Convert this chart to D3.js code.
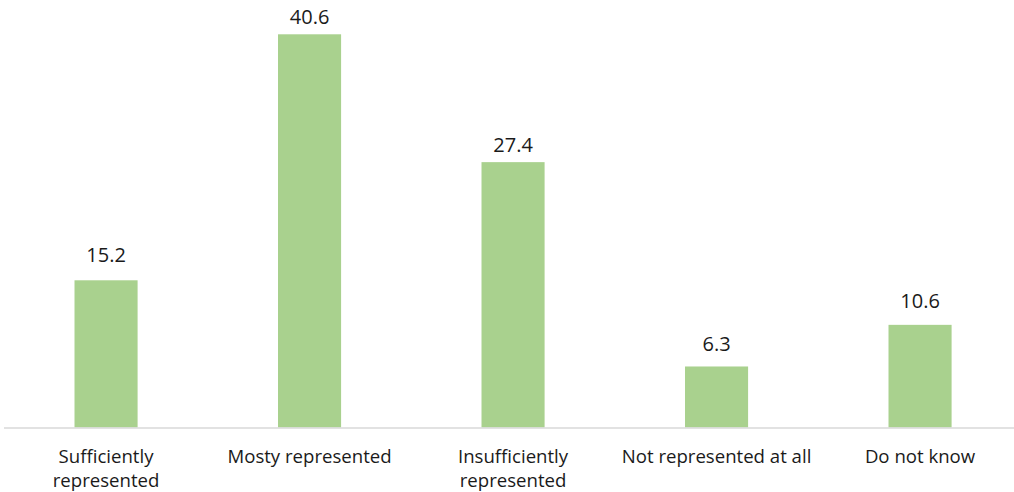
<!DOCTYPE html>
<html>
<head>
<meta charset="utf-8">
<script src="https://cdn.jsdelivr.net/npm/d3@7"></script>
<style>
  html, body { margin: 0; padding: 0; background: #fff; }
  svg { display: block; }
  text { font-family: "Open Sans", "Noto Sans", sans-serif; fill: #1a1a1a; }
</style>
</head>
<body>
<svg id="chart" width="1014" height="492"></svg>
<script>
// Survey answers and shares (%)
const categories = [
  ["Sufficiently", "represented"],
  ["Mosty represented"],
  ["Insufficiently", "represented"],
  ["Not represented at all"],
  ["Do not know"]
];
const values = [15.2, 40.6, 27.4, 6.3, 10.6];

const width = 1014, height = 492;
const baseline = 427.5;
const plotTop = 34.3;

// Gap between each value label's baseline and its bar top
const labelGap = [18, 10, 10.5, 15, 17];

const svg = d3.select("#chart");

const x = d3.scaleBand()
  .domain(d3.range(categories.length))
  .range([4.3, 1021.8])
  .paddingInner(0.69)
  .paddingOuter(0.345);

const y = d3.scaleLinear()
  .domain([0, 40.6])
  .range([baseline, plotTop]);

// Bars
svg.append("g")
  .selectAll("rect")
  .data(values)
  .join("rect")
  .attr("x", (d, i) => x(i))
  .attr("y", d => y(d))
  .attr("width", x.bandwidth())
  .attr("height", d => baseline - y(d))
  .attr("fill", "#a9d18e");

// Category axis line
svg.append("line")
  .attr("x1", 4).attr("x2", 1014)
  .attr("y1", baseline + 0.5).attr("y2", baseline + 0.5)
  .attr("stroke", "#d9d9d9")
  .attr("stroke-width", 1.5);

// Value labels above bars
svg.append("g")
  .selectAll("text")
  .data(values)
  .join("text")
  .attr("x", (d, i) => x(i) + x.bandwidth() / 2)
  .attr("y", (d, i) => y(d) - labelGap[i])
  .attr("text-anchor", "middle")
  .attr("font-size", 20)
  .text(d => d.toFixed(1));

// Category labels, wrapped on two lines where needed
const labels = svg.append("g")
  .selectAll("text")
  .data(categories)
  .join("text")
  .attr("x", (d, i) => x(i) + x.bandwidth() / 2)
  .attr("y", 462.5)
  .attr("text-anchor", "middle")
  .attr("font-size", 18.6);

labels.selectAll("tspan")
  .data(d => d)
  .join("tspan")
  .attr("x", function() { return this.parentNode.getAttribute("x"); })
  .attr("dy", (d, i) => i === 0 ? 0 : 24)
  .text(d => d);
</script>
</body>
</html>
